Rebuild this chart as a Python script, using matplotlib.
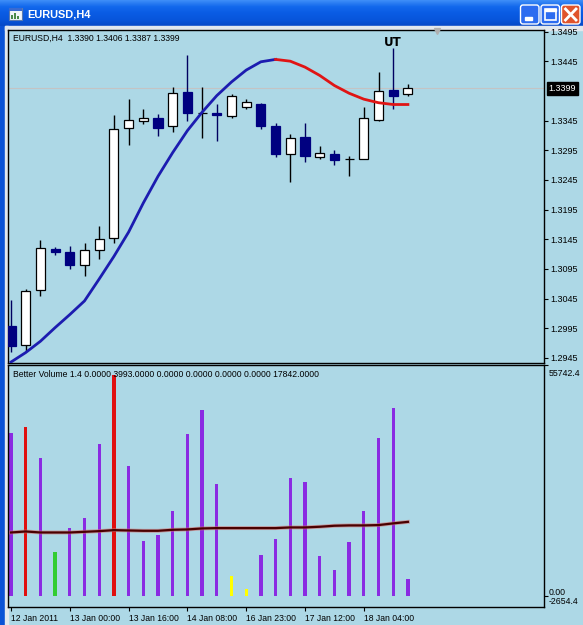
import numpy as np
import matplotlib.pyplot as plt
import matplotlib.transforms as mtransforms
from matplotlib.patches import Rectangle, FancyBboxPatch

plt.rcParams['font.family'] = ['Liberation Sans', 'DejaVu Sans']

W, H = 583, 625
BG = '#add8e6'

# EURUSD H4 candles
opens = [1.2999, 1.2967, 1.3059, 1.3129, 1.3124, 1.3102, 1.3126, 1.3147, 1.3332, 1.3345,
         1.3349, 1.3335, 1.3393, 1.3357, 1.3358, 1.3353, 1.3367, 1.3373, 1.3335, 1.3289,
         1.3317, 1.3283, 1.3289, 1.3280, 1.3281, 1.3346, 1.3397, 1.3390]
highs = [1.3043, 1.3061, 1.3143, 1.3132, 1.3133, 1.3139, 1.3168, 1.3354, 1.3381, 1.3364,
         1.3356, 1.3401, 1.3455, 1.3401, 1.3373, 1.3390, 1.3381, 1.3374, 1.3341, 1.3322,
         1.3340, 1.3302, 1.3295, 1.3285, 1.3367, 1.3427, 1.3467, 1.3406]
lows = [1.2955, 1.2956, 1.3049, 1.3119, 1.3095, 1.3083, 1.3112, 1.3139, 1.3304, 1.3339,
        1.3319, 1.3325, 1.3345, 1.3316, 1.3311, 1.3349, 1.3364, 1.3330, 1.3283, 1.3241,
        1.3275, 1.3280, 1.3270, 1.3251, 1.3280, 1.3345, 1.3364, 1.3387]
closes = [1.2965, 1.3058, 1.3130, 1.3123, 1.3102, 1.3127, 1.3145, 1.3330, 1.3346, 1.3349,
          1.3333, 1.3392, 1.3357, 1.3357, 1.3355, 1.3386, 1.3376, 1.3336, 1.3289, 1.3315,
          1.3285, 1.3290, 1.3279, 1.3280, 1.3349, 1.3395, 1.3387, 1.3399]

# moving average over the price (blue while rising, red after the turn)
ma_price = [1.2938, 1.2954, 1.2973, 1.2996, 1.3018, 1.3041, 1.3078, 1.3116, 1.3157, 1.3206,
            1.3251, 1.3291, 1.3328, 1.3359, 1.3387, 1.3410, 1.3430, 1.3444, 1.3448, 1.3445,
            1.3435, 1.3421, 1.3404, 1.3391, 1.3381, 1.3375, 1.3372, 1.3372]
ma_turn = 18

# Better Volume
volume = [39380, 40770, 33200, 10480, 16340, 18790, 36690, 53380, 31320, 13240,
          14780, 20570, 39210, 45000, 27090, 4760, 1690, 9820, 13660, 28390,
          27480, 9580, 6160, 13000, 20570, 38160, 45490, 3993]
vol_kind = ['p', 'r', 'p', 'g', 'p', 'p', 'p', 'r', 'p', 'p',
            'p', 'p', 'p', 'p', 'p', 'y', 'y', 'p', 'p', 'p',
            'p', 'p', 'p', 'p', 'p', 'p', 'p', 'p']
vol_ma = [15276, 15520, 15276, 15276, 15276, 15440, 15602, 15848, 15765, 15684,
          15684, 15928, 16010, 16254, 16336, 16336, 16336, 16336, 16336, 16498,
          16498, 16661, 16906, 16987, 16987, 17069, 17476, 17842]
vol_max, vol_min = 55742.4, -2654.4

price_ticks = [1.3495, 1.3445, 1.3345, 1.3295, 1.3245, 1.3195, 1.3145,
               1.3095, 1.3045, 1.2995, 1.2945]
time_idx = [0, 4, 8, 12, 16, 20, 24]
time_labels = ['12 Jan 2011', '13 Jan 00:00', '13 Jan 16:00', '14 Jan 08:00',
               '16 Jan 23:00', '17 Jan 12:00', '18 Jan 04:00']

kind_color = {'p': '#8a2be2', 'r': '#e01010', 'g': '#32cd32', 'y': '#ffff00'}


def box(x0, y0, x1, y1):
    return [x0 / W, 1 - y1 / H, (x1 - x0) / W, (y1 - y0) / H]


fig = plt.figure(figsize=(W / 100, H / 100), dpi=100, facecolor=BG)

# window frame (XP style)
chrome = fig.add_axes([0, 0, 1, 1])
chrome.axis('off')
stops = np.array([[0x3c, 0x8c, 0xf7], [0x12, 0x68, 0xec], [0x0a, 0x5c, 0xe4],
                  [0x08, 0x56, 0xdc], [0x06, 0x4a, 0xc8]]) / 255.0
rows = np.array([np.interp(np.linspace(0, 4, 26), np.arange(5), stops[:, k]) for k in range(3)]).T
chrome.imshow(rows[:, None, :], extent=(0, W, 26, 0), aspect='auto')
chrome.add_patch(Rectangle((0, 26), 5, H - 26, color='#0a52d6'))
chrome.add_patch(Rectangle((5, 26), 3.3, H - 26, color='#e2e8ee'))
chrome.add_patch(Rectangle((5, 26), W - 5, 3.5, color='#e2e8ee'))
chrome.set_xlim(0, W)
chrome.set_ylim(H, 0)
# icon
chrome.add_patch(Rectangle((8.5, 7.5), 13, 12, fc='#f0f4f8', ec='#5a7ab0', lw=0.8))
chrome.add_patch(Rectangle((8.5, 7.5), 13, 3, fc='#3a6ad0', ec='none'))
for bx, bh in [(11, 4), (14, 6), (17, 3)]:
    chrome.add_patch(Rectangle((bx, 19 - bh), 2, bh, fc='#4a8a4a', ec='none'))
chrome.text(27, 14.5, 'EURUSD,H4', color='white', fontsize=7.9, fontweight='bold',
            va='center', ha='left')
for bx, fc in [(520.5, '#2c6cf0'), (541, '#2c6cf0'), (561.5, '#e0542c')]:
    chrome.add_patch(FancyBboxPatch((bx, 5), 18.5, 19,
                                    boxstyle='round,pad=0,rounding_size=2.5',
                                    fc=fc, ec='white', lw=1))
chrome.add_patch(Rectangle((524.5, 17), 7, 2.5, color='white'))
chrome.add_patch(Rectangle((545, 9), 10.5, 10.5, fc='none', ec='white', lw=1.2))
chrome.add_patch(Rectangle((545, 9), 10.5, 2.2, color='white'))
chrome.plot([565.5, 576], [9, 20], color='white', lw=2)
chrome.plot([565.5, 576], [20, 9], color='white', lw=2)

x0 = (8.3 - 11) / 14.7
x1 = (544.3 - 11) / 14.7

# ---- price panel
axp = fig.add_axes(box(8.3, 29.8, 544.3, 362.7), facecolor=BG)
idx = np.arange(len(closes))
o = np.array(opens); c = np.array(closes); hi = np.array(highs); lo = np.array(lows)
up = c >= o
axp.vlines(idx[up], lo[up], hi[up], color='black', lw=1, zorder=2)
axp.vlines(idx[~up], lo[~up], hi[~up], color='#000060', lw=1, zorder=2)
axp.bar(idx[up], (c - o)[up], bottom=o[up], width=0.62, color='white',
        edgecolor='black', lw=0.9, zorder=3)
axp.bar(idx[~up], (o - c)[~up], bottom=c[~up], width=0.62, color='#000080',
        edgecolor='#000080', lw=0.9, zorder=3)
axp.axhline(closes[-1], color='#c4c4c4', lw=0.8, zorder=1)
axp.plot(idx[:ma_turn + 1], ma_price[:ma_turn + 1], color='#1c1cb0', lw=2, zorder=4)
axp.plot(idx[ma_turn:], ma_price[ma_turn:], color='#e01414', lw=2, zorder=4)
axp.annotate('UT', xy=(26, highs[26]), xytext=(0, 4.2), textcoords='offset points',
             ha='center', va='center', fontsize=8.5, fontweight='bold',
             family=['DejaVu Sans'])
axp.plot([29], [1.3496], marker='v', color='#b0b0b0', ms=5, clip_on=False, zorder=5)
axp.set_xlim(x0, x1)
axp.set_ylim(1.29369, 1.34979)
axp.set_xticks([])
axp.yaxis.tick_right()
axp.set_yticks(price_ticks)
axp.set_yticklabels(['%.4f' % p for p in price_ticks])
axp.tick_params(axis='y', length=3, width=0.8, pad=1.5, labelsize=6.5)
blend_p = mtransforms.blended_transform_factory(axp.transAxes, axp.transData)
axp.annotate('%.4f' % closes[-1], xy=(1, closes[-1]), xycoords=blend_p,
             xytext=(3.2, 0), textcoords='offset points', va='center', ha='left',
             color='white', fontsize=6.5,
             bbox=dict(boxstyle='square,pad=0.2', fc='black', ec='black'))
axp.annotate('EURUSD,H4  %.4f %.4f %.4f %.4f' % (opens[-1], highs[-1], lows[-1], closes[-1]),
             xy=(0, 1), xycoords='axes fraction', xytext=(3.5, -6),
             textcoords='offset points', va='center', ha='left', fontsize=6.2)

# ---- volume panel
axv = fig.add_axes(box(8.3, 365.2, 544.3, 606.6), facecolor=BG)
axv.bar(idx, volume, width=0.23, color=[kind_color[k] for k in vol_kind], zorder=2)
axv.plot(idx, vol_ma, color='#d07070', lw=2.8, alpha=0.6, zorder=3)
axv.plot(idx, vol_ma, color='#4a0000', lw=1.6, zorder=4)
axv.set_xlim(x0, x1)
axv.set_ylim(vol_min, vol_max)
axv.yaxis.tick_right()
axv.set_yticks([vol_max, 0])
axv.set_yticklabels(['', ''])
axv.tick_params(axis='y', length=3, width=0.8)
axv.set_xticks(time_idx)
axv.set_xticklabels(time_labels, ha='left')
axv.tick_params(axis='x', length=3, width=0.8, pad=2.2, labelsize=6.2)
blend_v = mtransforms.blended_transform_factory(axv.transAxes, axv.transData)
for val, txt, dy in [(vol_max, '55742.4', -5.8), (0, '0.00', 2.6), (vol_min, '-2654.4', 3.6)]:
    axv.annotate(txt, xy=(1, val), xycoords=blend_v, xytext=(3.2, dy),
                 textcoords='offset points', va='center', ha='left', fontsize=6.3)
vals = '0.0000 %.4f 0.0000 0.0000 0.0000 0.0000 %.4f' % (volume[-1], vol_ma[-1])
axv.annotate('Better Volume 1.4 ' + vals, xy=(0, 1), xycoords='axes fraction',
             xytext=(3.5, -7), textcoords='offset points', va='center', ha='left',
             fontsize=6.2)

for ax in (axp, axv):
    for s in ax.spines.values():
        s.set_color('black')
        s.set_linewidth(1)

fig.savefig('out.png', dpi=100, facecolor=BG)
